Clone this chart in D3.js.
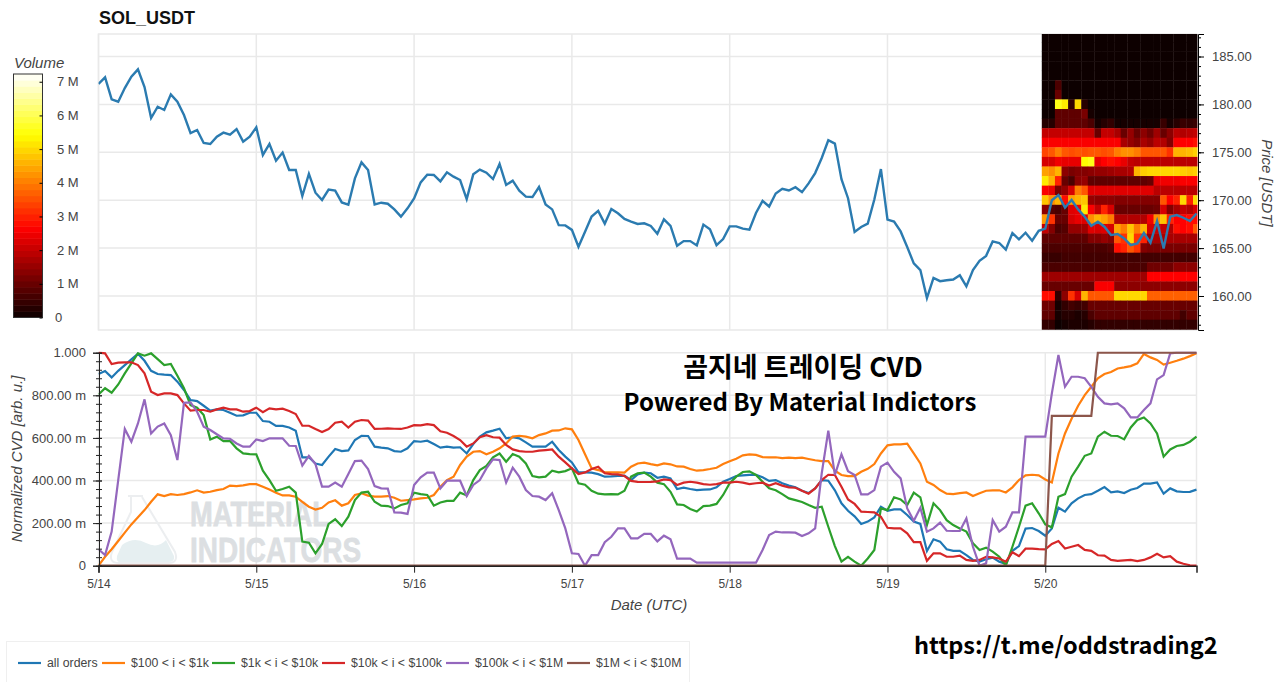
<!DOCTYPE html>
<html>
<head>
<meta charset="utf-8">
<script src="https://cdn.jsdelivr.net/npm/d3@7"></script>
<style>
  body { margin: 0; background: #fff; }
  svg { display: block; font-family: "Liberation Sans", Arial, sans-serif; }
  .grid line { stroke: #e9e9e9; stroke-width: 1.5; }
  .tick text { fill: #444; }
  .axlabel { fill: #444; font-style: italic; font-size: 15px; }
  .notice { font-family: "Noto Sans CJK KR", sans-serif; font-weight: 700; fill: #000; }
</style>
</head>
<body>
<div id="chart"></div>
<script>
// hourly samples, 5/14 00:00 to 5/20 23:00 UTC, 24 values on each row
const priceValues = [
  182.13,182.83,180.53,180.28,181.71,182.89,183.66,181.82,178.58,179.76,179.42,181.05,180.28,178.89,177.01,177.33,175.97,175.87,176.63,177.05,176.84,177.43,176.11,176.63,
  177.61,174.72,175.87,174.13,174.97,173.15,173.15,170.44,172.74,170.78,170.02,171.10,171.00,169.77,169.53,172.28,173.95,173.15,169.56,169.74,169.63,169.04,168.28,169.15,
  170.19,171.86,172.67,172.63,171.97,172.91,172.46,172.11,170.12,172.70,173.19,172.87,172.21,173.78,171.59,172.04,171.00,170.37,170.33,171.38,169.56,169.04,167.40,167.37,
  166.90,165.14,166.71,168.29,168.88,167.55,169.09,168.64,168.04,167.76,167.52,167.59,167.31,166.50,168.00,167.31,165.24,165.73,165.73,165.28,167.45,166.96,165.31,165.94,
  167.27,167.27,167.03,166.92,168.67,169.93,169.34,170.70,171.19,171.01,171.36,170.84,171.75,172.83,174.41,176.26,175.91,172.20,170.21,166.68,167.20,167.55,170.07,173.25,
  167.97,167.77,166.74,165.12,163.40,162.71,159.79,161.89,161.55,161.65,161.72,162.16,161.00,162.71,163.68,164.19,165.70,165.53,164.85,166.56,165.91,166.60,165.77,166.80,
  167.03,170.00,170.54,169.22,170.02,169.04,168.28,167.33,167.75,167.23,166.36,166.46,166.01,165.31,165.49,166.57,165.56,167.82,164.97,168.28,168.45,168.17,167.82,168.62
];

// normalized CVD in milli-units
const allOrders = [
  900,914,884,915,942,969,995,962,915,900,897,895,864,825,778,773,751,728,734,731,718,704,706,718,
  718,679,676,656,656,649,634,509,509,480,473,512,548,538,541,590,610,609,559,554,551,538,535,551,
  585,582,587,571,554,559,554,556,527,571,606,626,634,643,598,603,598,579,559,559,559,582,543,512,
  485,438,438,437,430,418,419,421,423,402,429,437,434,413,418,410,360,366,360,355,357,358,368,394,
  407,421,424,426,426,415,398,402,387,376,368,352,341,363,402,399,354,293,258,232,196,207,227,277,
  258,264,264,238,207,196,69,124,113,77,70,70,50,27,19,30,38,19,8,70,92,174,177,163,
  141,175,272,254,293,316,332,336,352,369,344,349,341,357,365,385,385,391,338,363,349,346,347,357
];
const orders100 = [
  0,42,77,116,155,194,227,261,300,335,327,336,332,336,344,354,343,347,355,360,376,374,377,383,
  383,371,358,343,330,330,324,300,277,264,272,297,307,282,293,332,340,329,324,324,327,319,305,308,
  311,316,319,332,371,402,418,473,512,535,538,523,535,551,574,606,610,606,598,613,621,634,635,645,
  640,590,523,457,449,438,438,438,437,465,480,484,477,471,480,476,466,465,454,446,449,454,460,477,
  490,502,518,523,520,510,509,509,505,507,505,507,501,495,491,491,446,426,421,421,441,455,477,527,
  565,570,570,573,527,480,394,379,355,338,336,341,344,327,340,352,354,354,344,368,402,424,427,424,
  405,391,527,621,690,751,801,840,880,900,909,926,931,937,950,994,978,966,944,953,962,972,984,997
];
const orders1k = [
  804,833,812,851,903,950,997,986,997,970,942,947,892,833,754,742,707,593,606,585,585,551,527,524,
  523,446,402,352,360,371,343,113,108,58,102,196,218,186,230,308,343,347,300,282,280,269,285,293,
  343,336,332,282,297,304,304,343,330,402,449,468,509,527,488,524,512,480,421,415,418,446,438,444,
  457,387,380,352,338,335,336,335,352,418,434,437,418,390,383,347,288,285,266,254,280,282,290,332,
  387,418,440,443,426,394,363,354,336,316,308,299,285,272,277,183,92,19,42,19,0,34,74,269,
  261,321,311,285,343,321,191,293,261,214,191,175,160,105,74,85,66,42,0,89,183,282,293,246,
  194,180,324,336,418,465,516,527,606,629,610,609,593,649,684,696,668,621,512,546,562,567,582,606
];
const orders10k = [
  1000,997,947,953,955,955,942,903,817,801,809,809,801,762,728,731,731,723,734,742,734,734,723,726,
  742,721,739,734,737,726,712,657,657,642,628,642,671,676,649,676,684,681,642,643,645,643,642,649,
  660,659,665,660,631,624,609,590,559,574,603,613,603,601,567,546,538,535,535,540,543,546,512,485,
  457,430,438,454,465,434,430,429,421,398,394,393,394,396,405,402,379,390,394,390,383,380,383,390,
  390,394,390,383,387,390,376,387,376,368,366,352,338,363,402,427,426,371,311,290,254,252,250,230,
  178,175,175,152,111,111,23,58,58,42,42,47,27,23,27,42,39,34,19,63,45,80,80,78,
  77,102,116,81,89,97,74,70,49,47,27,23,25,27,22,27,39,56,39,45,19,9,2,0
];
const orders100k = [
  77,50,160,402,642,582,668,781,621,653,668,613,496,765,767,723,653,637,617,598,596,574,559,559,
  593,585,598,598,598,563,562,470,516,477,371,371,390,371,430,491,493,454,374,363,362,250,249,243,
  379,415,437,437,363,399,399,399,327,379,402,457,499,496,390,460,418,355,327,324,308,340,261,175,
  58,55,0,50,50,110,136,175,175,128,128,149,149,114,141,124,33,33,33,14,14,14,14,14,
  14,14,14,14,14,74,144,160,156,156,155,139,152,175,434,634,426,523,444,426,335,335,355,465,
  484,441,410,269,211,272,160,175,202,164,163,163,222,89,0,11,214,160,183,250,250,606,606,606,
  606,809,989,840,887,887,880,840,793,762,757,762,739,696,696,731,762,875,895,997,1000,1000,1000,1000
];
const orders1m = [
  0,0,0,0,0,0,0,0,0,0,0,0,0,0,0,0,0,0,0,0,0,0,0,0,
  0,0,0,0,0,0,0,0,0,0,0,0,0,0,0,0,0,0,0,0,0,0,0,0,
  0,0,0,0,0,0,0,0,0,0,0,0,0,0,0,0,0,0,0,0,0,0,0,0,
  0,0,0,0,0,0,0,0,0,0,0,0,0,0,0,0,0,0,0,0,0,0,0,0,
  0,0,0,0,0,0,0,0,0,0,0,0,0,0,0,0,0,0,0,0,0,0,0,0,
  0,0,0,0,0,0,0,0,0,0,0,0,0,0,0,0,0,0,0,0,0,0,0,0,
  0,703,703,703,703,703,703,703,1000,1000,1000,1000,1000,1000,1000,1000,1000,1000,1000,1000,1000,1000,1000,1000
];

const seriesNames = ["all orders", "$100 < i < $1k", "$1k < i < $10k", "$10k < i < $100k", "$100k < i < $1M", "$1M < i < $10M"];
const seriesColors = ["#1f77b4", "#ff7f0e", "#2ca02c", "#d62728", "#9467bd", "#8c564b"];
const seriesValues = [allOrders, orders100, orders1k, orders10k, orders100k, orders1m];

const priceTicks = [160, 165, 170, 175, 180, 185];
const cvdTicks = [0, 200, 400, 600, 800, 1000];
const volumeTicks = [0, 1, 2, 3, 4, 5, 6, 7];
const dayLabels = ["5/14", "5/15", "5/16", "5/17", "5/18", "5/19", "5/20"];

// order book volume in millions, one row per price level, 24 hours of 5/20
const heatPrices = [187,186,185,184,183,182,181,180,179,178,177,176,175,174,173,172,171,170,169,168,167,166,165,164,163,162,161,160,159,158,157];
const heatVolumes = [
  [.02,.02,.02,.02,.02,.02,.02,.02,.02,.02,.02,.02,.02,.02,.02,.02,.02,.02,.02,.02,.02,.02,.02,.02],
  [.02,.02,.02,.02,.02,.02,.02,.02,.02,.02,.02,.02,.02,.02,.02,.02,.02,.02,.02,.02,.02,.02,.02,.02],
  [.02,.02,.02,.02,.02,.02,.02,.02,.02,.02,.02,.02,.02,.02,.02,.02,.02,.02,.02,.02,.02,.02,.02,.02],
  [.02,.02,.02,.02,.02,.02,.02,.02,.02,.02,.02,.02,.02,.02,.02,.02,.02,.02,.02,.02,.02,.02,.02,.02],
  [.02,.02,.02,.02,.02,.02,.02,.02,.02,.02,.02,.02,.02,.02,.02,.02,.02,.02,.02,.02,.02,.02,.02,.02],
  [.03,.03,.7,.03,.03,.03,.03,.03,.03,.03,.03,.03,.03,.03,.03,.03,.03,.03,.03,.03,.03,.03,.03,.03],
  [.03,.03,1,.03,.03,.03,.03,.03,.03,.03,.03,.03,.03,.03,.03,.03,.03,.03,.03,.03,.03,.03,.03,.03],
  [.03,.03,5.6,5.2,.4,5,.3,.03,.03,.03,.03,.03,.03,.03,.03,.03,.03,.03,.03,.03,.03,.03,.03,.03],
  [.05,.05,.9,.9,.9,.9,1.2,.1,.05,.05,.05,.05,.05,.05,.05,.05,.05,.05,.05,.05,.05,.05,.05,.05],
  [.3,.3,.9,.9,.9,.9,.9,.7,.1,.3,.4,.08,.08,.08,.08,.08,.08,.1,.5,.1,.3,.5,.4,.5],
  [2,2,2,2,2,2,2,2,1,2,2,1.7,1,1.5,1,1.4,1.1,1.6,1,1.4,1.9,1.8,1.9,2],
  [2.6,2.6,2.6,2.6,2.6,2.6,2.6,2.6,2.6,2.6,2.6,2.6,1.7,1.5,1.3,1.7,1.5,1.9,1.8,1.3,2.6,2.7,2.7,2.8],
  [3.4,3.6,4,3.6,3.5,3.6,3.5,3.6,3.6,3.5,3.6,4,4.2,4.2,4,3.6,3.6,3.6,3.6,3.2,4.6,4.6,4.7,4.9],
  [2.2,2.2,2.5,2.4,2.4,2.4,5.4,5.6,2.4,2.7,2.8,2.7,2.4,2,1.9,1.9,1.9,1.9,1.9,1.9,1.9,1.9,1.9,1.9],
  [4.4,4.2,4.6,1.4,1.2,1.3,1.3,1.4,1.5,1.5,1.6,1.7,1.7,1.8,4.6,4.9,5,5,5,5,5,4.9,4.8,4.9],
  [5.2,4.6,3,1,.7,1.4,1.5,.9,.9,.9,.9,.9,.9,.9,.9,.9,1,2.4,2.5,2.5,2.5,2.6,2.6,2.6],
  [2.6,2.4,1.2,1.5,2.2,4,3.6,2.3,2.3,2.3,2.3,2.3,2.3,2.3,2.3,2.3,2.3,1.9,1.9,1.9,1.9,1.9,1.9,1.9],
  [4.8,4.2,4.6,2.8,4.4,4.6,4.8,1.5,1.4,1.4,1.4,1.3,1.3,1.3,1.3,1.3,1.3,1.3,3.6,2.7,3,5,3,5],
  [1.4,.8,.7,1,2.3,2.4,5.2,2.6,2,3,2.2,1,1,1,1,1,1,1.1,2.2,1.3,1.7,2,1.8,2.2],
  [4.3,3.2,1,1,2.2,2.4,2.3,4.2,4.6,4.4,4,1.8,1.8,1.8,1.8,1.8,2.5,4.2,4.8,3,2.7,2.7,2.8,2.8],
  [2,1.3,.7,.8,1.5,1.5,1.6,2.3,2.2,2.3,2.2,4.4,4,4.8,4,4.6,2.2,2,2,1.8,2.8,2.7,2.8,3.6],
  [.9,.9,.9,.9,.9,.9,.9,1.3,1.3,1.5,1.3,3.6,3.2,5,3.2,3,1.6,1.7,1.7,1.7,1.7,1.7,1.7,1.7],
  [.7,.7,.7,.7,.7,.7,.7,.7,.7,.7,.8,2.8,3,3.6,3.2,1.3,1.2,1.2,1.2,1.2,1.2,1.2,1.2,1.2],
  [.5,.5,.5,.6,.6,.6,.6,.6,.6,.6,.6,.6,.6,.6,.6,.6,.6,.6,.6,.6,.6,.6,.6,.6],
  [.7,.7,.7,.7,.7,.7,.7,.7,.7,.7,.7,.7,.7,.7,.7,.7,1.1,1.1,1.1,1.1,1.4,1.4,1.4,1.4],
  [1.6,1.6,1.6,1.6,1.6,1.6,1.6,1.6,1.6,1.6,1.6,1.6,1.6,1.6,1.6,1.6,2.7,2.7,2.7,2.7,2.7,2.7,2.7,2.7],
  [1,1,1,1,1,1,1,1,2.6,2.6,2.6,1.4,1.4,1.4,1.4,1.4,1.4,1.4,1.4,1.4,1.4,1.4,1.4,1.4],
  [2.8,2.8,.4,1.4,3.2,2.2,4.6,3.6,3.6,3.6,3.6,5,5,5,5,5,3.7,3.7,3.7,3.7,3.7,3.7,3.7,3.7],
  [1.1,1.1,.15,.4,.6,.5,.6,1,1,1,1,1,1,1,1,1,1,1,1,1,1,1,1,1],
  [.9,.9,.1,.3,.3,.2,.3,.7,.9,.9,.9,.9,.9,.9,.9,.9,.9,.9,.9,.9,.9,.6,.9,.9],
  [.4,.4,.05,.1,.2,.2,.2,.3,.4,.4,.4,.4,.4,.4,.4,.4,.4,.4,.4,.4,.4,.4,.4,.4]
];

const width = 1280, height = 682;
const left = 98.5, right = 1196.5;

const svg = d3.select("#chart").append("svg")
    .attr("width", width)
    .attr("height", height);

const t0 = new Date(Date.UTC(2024, 4, 14));
const hours = d3.utcHour.range(t0, d3.utcHour.offset(t0, priceValues.length));
const dayTicks = d3.utcDay.range(t0, d3.utcDay.offset(t0, dayLabels.length));

const x = d3.scaleUtc().domain([hours[0], hours[hours.length - 1]]).range([left, right]);
const yPrice = d3.scaleLinear().domain([156.45, 187.35]).range([330, 34]);
const yCvd = d3.scaleLinear().domain([0, 1000]).range([565.7, 352.7]);
const yVol = d3.scaleLinear().domain([0, 7.23]).range([317.5, 74]);

// hot colormap
const hot = d3.scaleLinear()
    .domain([0, 2.65, 5.42, 7.23])
    .range(["#0b0000", "#ff0000", "#ffff00", "#ffffff"])
    .clamp(true);

const defs = svg.append("defs");
defs.append("clipPath").attr("id", "priceClip").append("rect")
    .attr("x", left).attr("y", 34).attr("width", right - left + 1).attr("height", 296);
defs.append("clipPath").attr("id", "cvdClip").append("rect")
    .attr("x", left).attr("y", 351.5).attr("width", right - left + 1).attr("height", 215.5);
defs.append("filter").attr("id", "soft").append("feGaussianBlur").attr("stdDeviation", 0.7);

// price panel frame and grid
const gridP = svg.append("g").attr("class", "grid");
gridP.selectAll("line.h").data(priceTicks).join("line").attr("class", "h")
    .attr("x1", left).attr("x2", right).attr("y1", d => yPrice(d)).attr("y2", d => yPrice(d));
gridP.selectAll("line.v").data(dayTicks).join("line").attr("class", "v")
    .attr("x1", d => x(d)).attr("x2", d => x(d)).attr("y1", 34).attr("y2", 330);
gridP.append("rect").attr("x", left).attr("y", 34).attr("width", right - left).attr("height", 296)
    .attr("fill", "none").attr("stroke", "#e9e9e9").attr("stroke-width", 1.5);

// heatmap
const hourStep = x(hours[1]) - x(hours[0]);
const heatHours = hours.slice(144);
const heatG = svg.append("g").attr("clip-path", "url(#priceClip)").append("g").attr("filter", "url(#soft)");
heatVolumes.forEach((row, r) => {
    const p = heatPrices[r];
    heatG.selectAll(null).data(row).join("rect")
        .attr("x", (d, i) => x(heatHours[i]) - hourStep / 2 - 0.2)
        .attr("y", yPrice(p + 0.5) - 0.2)
        .attr("width", hourStep + 0.4)
        .attr("height", yPrice(p - 0.5) - yPrice(p + 0.5) + 0.4)
        .attr("fill", d => hot(d));
});

// price line
const priceLine = d3.line().x((d, i) => x(hours[i])).y(d => yPrice(d));
svg.append("path").datum(priceValues)
    .attr("clip-path", "url(#priceClip)")
    .attr("d", priceLine)
    .attr("fill", "none")
    .attr("stroke", "#2b7bb0")
    .attr("stroke-width", 2.4);

svg.append("text").attr("x", 99).attr("y", 24)
    .attr("font-size", 18).attr("font-weight", 700).attr("fill", "#111")
    .text("SOL_USDT");

// right price axis
const priceAxis = svg.append("g").attr("transform", "translate(1198,0)")
    .call(d3.axisRight(yPrice).tickValues(priceTicks).tickSize(6).tickPadding(8).tickFormat(d3.format(".2f")));
priceAxis.selectAll("text").attr("font-size", 13).attr("font-family", "Liberation Sans");
svg.append("g").attr("transform", "translate(1198,0)")
    .call(d3.axisRight(yPrice).tickValues(heatPrices).tickSize(3).tickFormat(""))
    .select(".domain").remove();
svg.append("text").attr("class", "axlabel")
    .attr("transform", "translate(1262,183) rotate(90)")
    .attr("text-anchor", "middle")
    .text("Price [USDT]");

// colour bar
svg.append("text").attr("class", "axlabel").attr("x", 14).attr("y", 68).text("Volume");
const barG = svg.append("g");
const bandSize = yVol.domain()[1] / 40;
barG.selectAll("rect").data(d3.range(40)).join("rect")
    .attr("x", 13.5).attr("width", 29)
    .attr("y", d => yVol((d + 1) * bandSize))
    .attr("height", d => yVol(d * bandSize) - yVol((d + 1) * bandSize) + 0.5)
    .attr("fill", d => hot((d + 0.5) * bandSize));
barG.append("rect").attr("x", 13.5).attr("y", 74).attr("width", 29).attr("height", 243.5)
    .attr("fill", "none").attr("stroke", "#333");
const volAxis = svg.append("g").attr("transform", "translate(42.5,0)")
    .call(d3.axisLeft(yVol).tickValues(volumeTicks).tickSize(3).tickFormat(""));
volAxis.select(".domain").remove();
svg.selectAll(null).data(volumeTicks).join("text")
    .attr("x", d => d ? 57 : 55)
    .attr("y", d => yVol(d) + 4.5)
    .attr("font-size", 13).attr("fill", "#444")
    .text(d => d ? d + " M" : "0");

// cvd panel
const gridC = svg.append("g").attr("class", "grid");
gridC.selectAll("line.h").data(cvdTicks.slice(1)).join("line").attr("class", "h")
    .attr("x1", left).attr("x2", right).attr("y1", d => yCvd(d)).attr("y2", d => yCvd(d));
gridC.selectAll("line.v").data(dayTicks).join("line").attr("class", "v")
    .attr("x1", d => x(d)).attr("x2", d => x(d)).attr("y1", 352.7).attr("y2", 565.7);
gridC.append("line").attr("x1", right).attr("x2", right).attr("y1", 352.7).attr("y2", 565.7);

// watermark
const mark = svg.append("g");
mark.append("path")
    .attr("d", "M128,496H143M131,497V512L112,552Q108,563 119,563H168Q179,563 175,552L142,497")
    .attr("fill", "none").attr("stroke", "#eceef0").attr("stroke-width", 2);
mark.append("path")
    .attr("d", "M117,556L122,545Q134,536 146,543Q158,549 166,540L174,556Q175,562 168,562H120Q116,562 117,556Z")
    .attr("fill", "#e6eff1");
mark.append("text").attr("x", 190).attr("y", 526).attr("font-size", 35).attr("font-weight", 700)
    .attr("fill", "#dcdfe2").attr("stroke", "#dcdfe2").attr("stroke-width", 0.8)
    .attr("textLength", 139).attr("lengthAdjust", "spacingAndGlyphs").text("MATERIAL");
mark.append("text").attr("x", 190).attr("y", 562).attr("font-size", 35).attr("font-weight", 700)
    .attr("fill", "#dcdfe2").attr("stroke", "#dcdfe2").attr("stroke-width", 0.8)
    .attr("textLength", 171).attr("lengthAdjust", "spacingAndGlyphs").text("INDICATORS");

// cvd lines
const cvdLine = d3.line().x((d, i) => x(hours[i])).y(d => yCvd(d));
svg.append("g").attr("clip-path", "url(#cvdClip)")
    .selectAll("path").data(seriesValues).join("path")
    .attr("d", cvdLine)
    .attr("fill", "none")
    .attr("stroke", (d, i) => seriesColors[i])
    .attr("stroke-width", 2.2);

// cvd axes
const cvdAxis = svg.append("g").attr("transform", "translate(99,0)")
    .call(d3.axisLeft(yCvd).tickValues(cvdTicks).tickSize(6).tickPadding(7)
        .tickFormat(d => d === 0 ? "0" : d === 1000 ? "1.000" : d + ".00 m"));
cvdAxis.selectAll("text").attr("font-size", 13);
cvdAxis.selectAll("line, path").attr("stroke", "#222");
cvdAxis.selectAll(".tick line").attr("x1", 3);
svg.append("g").attr("transform", "translate(99,0)")
    .call(d3.axisLeft(yCvd).tickValues(d3.range(0, 1001, 40)).tickSize(3).tickFormat(""))
    .call(g => g.select(".domain").remove())
    .selectAll("line").attr("x1", 3).attr("x2", -3).attr("stroke", "#222");

const dateAxis = svg.append("g").attr("transform", "translate(0,565.7)")
    .call(d3.axisBottom(x).tickValues(dayTicks).tickSize(7).tickPadding(7)
        .tickFormat((d, i) => dayLabels[i]));
dateAxis.selectAll("text").attr("font-size", 12);
dateAxis.selectAll("line, path").attr("stroke", "#222");
dateAxis.select(".domain").attr("stroke-width", 1.5);

svg.append("text").attr("class", "axlabel")
    .attr("transform", "translate(22,459) rotate(-90)")
    .attr("text-anchor", "middle")
    .text("Normalized CVD [arb. u.]");
svg.append("text").attr("class", "axlabel")
    .attr("x", 649).attr("y", 610).attr("text-anchor", "middle")
    .text("Date (UTC)");

// overlay text
svg.append("text").attr("class", "notice").attr("x", 803).attr("y", 377)
    .attr("text-anchor", "middle").attr("font-size", 27).text("곰지네 트레이딩 CVD");
svg.append("text").attr("class", "notice").attr("x", 800).attr("y", 411)
    .attr("text-anchor", "middle").attr("font-size", 24).text("Powered By Material Indictors");
svg.append("text").attr("class", "notice").attr("x", 914).attr("y", 654)
    .attr("font-size", 23.5).text("https://t.me/oddstrading2");

// legend
const legendX = [18, 102, 212, 322, 446, 567];
svg.append("rect").attr("x", 6.5).attr("y", 641.5).attr("width", 683).attr("height", 42)
    .attr("fill", "#fff").attr("stroke", "#efefef");
const legend = svg.append("g").selectAll("g").data(seriesNames).join("g")
    .attr("transform", (d, i) => `translate(${legendX[i]},663)`);
legend.append("line").attr("x2", 23)
    .attr("stroke", (d, i) => seriesColors[i]).attr("stroke-width", 2.2);
legend.append("text").attr("x", 29).attr("y", 4)
    .attr("font-size", 12.3).attr("fill", "#444").text(d => d);
</script>
</body>
</html>
